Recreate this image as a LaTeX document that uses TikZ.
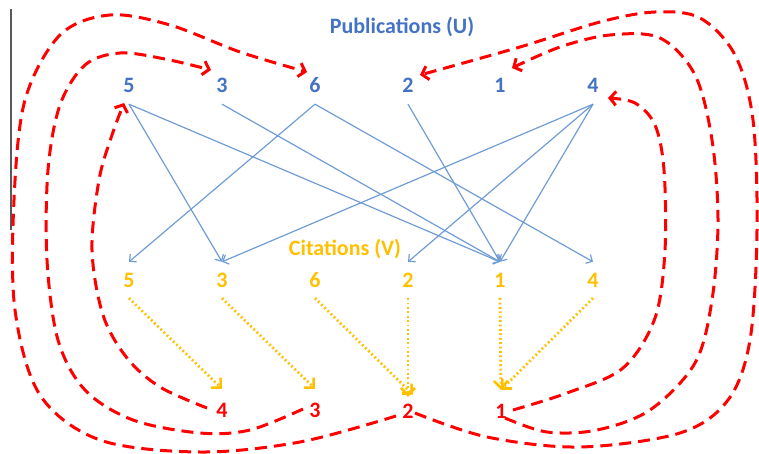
\documentclass[tikz,border=0pt]{standalone}
\usepackage{fontspec}
\setmainfont{Carlito}
\usetikzlibrary{arrows.meta,calc}
\definecolor{ublue}{RGB}{68,114,196}
\definecolor{lblue}{RGB}{112,156,214}
\definecolor{vyel}{RGB}{255,192,0}
\definecolor{wred}{RGB}{255,0,0}
\begin{document}
\begin{tikzpicture}[x=1pt,y=-1pt,
  dig/.style={inner sep=0pt, minimum width=22pt, font=\fontsize{22}{24}\selectfont\bfseries},
  unode/.style={dig, minimum height=38pt, text=ublue},
  vnode/.style={dig, minimum height=36pt, text=vyel},
  wnode/.style={dig, minimum height=42pt, text=wred},
  ttl/.style={inner sep=0pt, font=\fontsize{22}{24}\selectfont\bfseries},
  bluearr/.style={draw=lblue, line width=1.2pt, -{Straight Barb[length=5pt,width=10pt]}},
  yelarr/.style={draw=vyel, line width=2.8pt, dash pattern=on 1.8pt off 2.6pt, -{Straight Barb[length=7pt,width=14pt,line width=2.6pt]}},
  redarr/.style={draw=wred, line width=3pt, dash pattern=on 12pt off 7pt, -{Straight Barb[length=6pt,width=14pt]}},
  curve/.style={smooth, tension=0.55}
]
\useasboundingbox (0,0) rectangle (759,454);
\draw[gray!70!black, line width=1.2pt] (11,9) -- (11,230);

% titles
\node[ttl, text=ublue] (ttlU) at (402,27) {Publications (U)};
\node[ttl, text=vyel] (ttlV) at (345,249) {Citations (V)};

% top row U
\node[unode] (u5) at (129,85) {5};
\node[unode] (u3) at (222,85) {3};
\node[unode] (u6) at (315,85) {6};
\node[unode] (u2) at (408,85) {2};
\node[unode] (u1) at (500,85) {1};
\node[unode] (u4) at (593,85) {4};

% middle row V
\node[vnode] (v5) at (129,280) {5};
\node[vnode] (v3) at (222,280) {3};
\node[vnode] (v6) at (315,280) {6};
\node[vnode] (v2) at (408,280) {2};
\node[vnode] (v1) at (500,280) {1};
\node[vnode] (v4) at (593,280) {4};

% bottom row W
\node[wnode] (w4) at (222,410) {4};
\node[wnode] (w3) at (315,410) {3};
\node[wnode] (w2) at (408,411) {2};
\node[wnode] (w1) at (501,411) {1};

% blue edges
\draw[bluearr] (u5.south) -- (v3.north);
\draw[bluearr] (u5.south) -- (v1.north);
\draw[bluearr] (u3.south) -- (v1.north);
\draw[bluearr] (u6.south) -- (v5.north);
\draw[bluearr] (u6.south) -- (v4.north);
\draw[bluearr] (u2.south) -- (v1.north);
\draw[bluearr] (u4.south) -- (v3.north);
\draw[bluearr] (u4.south) -- (v2.north);
\draw[bluearr] (u4.south) -- (v1.north);

% yellow dotted edges
\draw[yelarr] (v5.south) -- (w4.north);
\draw[yelarr] (v3.south) -- (w3.north);
\draw[yelarr, shorten >=-7pt] (v6.south) -- (w2.north);
\draw[yelarr, shorten >=-7pt] (v2.south) -- (w2.north);
\draw[yelarr] (v1.south) -- (w1.north);
\draw[yelarr] (v4.south) -- (w1.north);

% red dashed curves
\coordinate (a0) at ($(w2)+(-12,5)$);
\coordinate (a1) at ($(u6)+(-8,-13)$);
\coordinate (b0) at ($(w3)+(-12,-1)$);
\coordinate (b1) at ($(u3)+(-11,-15)$);
\coordinate (c0) at ($(w4)+(-15,-2)$);
\coordinate (c1) at ($(u5)+(-5,18)$);
\coordinate (d0) at ($(w2)+(7,2)$);
\coordinate (d1) at ($(u2)+(12,-10)$);
\coordinate (e0) at ($(w1)+(4,7)$);
\coordinate (e1) at ($(u1)+(12,-17)$);
\coordinate (f0) at ($(w1)+(12,-1)$);
\coordinate (f1) at ($(u4)+(15,13)$);

\draw[redarr] plot[curve] coordinates {(a0) (300,442) (200,452) (100,440) (40,395) (15,310) (14,200) (25,100) (60,35) (110,15) (170,25) (240,52) (a1)};
\draw[redarr] plot[curve] coordinates {(b0) (250,430) (200,433) (133,420) (85,390) (58,340) (47,260) (48,170) (60,105) (85,65) (120,53) (165,59) (b1)};
\draw[redarr] plot[curve] coordinates {(c0) (160,387) (127,358) (103,315) (92,250) (99,180) (112,135) (c1)};
\draw[redarr] plot[curve] coordinates {(d0) (487,437) (580,447) (680,433) (728,400) (750,340) (757,230) (753,120) (735,55) (700,18) (655,12) (600,22) (520,47) (d1)};
\draw[redarr] plot[curve] coordinates {(e0) (547,432) (597,430) (650,410) (695,363) (712,300) (718,220) (712,140) (695,75) (660,38) (610,35) (560,47) (e1)};
\draw[redarr] plot[curve] coordinates {(f0) (567,393) (623,368) (655,318) (665,250) (664,170) (655,125) (635,103) (f1)};
\end{tikzpicture}
\end{document}
